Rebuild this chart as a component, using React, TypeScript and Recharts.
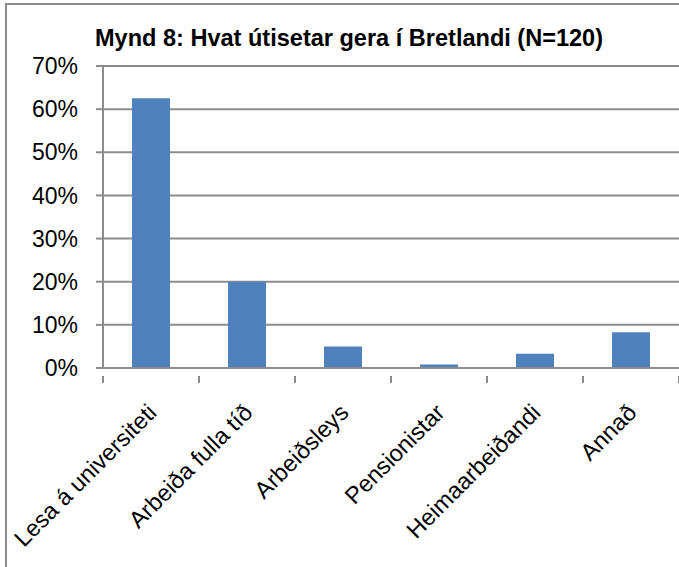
import React from 'react';
import { BarChart, Bar, XAxis, YAxis, CartesianGrid } from 'recharts';

// Mynd 8 data (N=120)
const categories = [
  'Lesa á universiteti',
  'Arbeiða fulla tíð',
  'Arbeiðsleys',
  'Pensionistar',
  'Heimaarbeiðandi',
  'Annað',
];
const shares = [62.5, 20, 5, 0.8, 3.3, 8.3];
const yTicks = [0, 10, 20, 30, 40, 50, 60, 70];
const title = 'Mynd 8: Hvat útisetar gera í Bretlandi (N=120)';

const data = categories.map((name, i) => ({ name, value: shares[i] }));

const W = 679;
const H = 567;
const axisLeft = 103;
const plotTop = 66;
const plotBottom = 368;
const band = (W - axisLeft) / categories.length;
const lineColor = '#8c8c8c';
const font = '"Liberation Sans", Arial, sans-serif';

// category label, rotated, with Excel-style tick marks between categories
const CategoryTick = (props: any) => {
  const { x, y, payload, index } = props;
  const left = x - band / 2;
  const right = x + band / 2;
  return (
    <g>
      <line x1={left} y1={y} x2={left} y2={y + 7} stroke={lineColor} strokeWidth={2} />
      {index === categories.length - 1 && (
        <line x1={right} y1={y} x2={right} y2={y + 7} stroke={lineColor} strokeWidth={2} />
      )}
      <g transform={`translate(${x + 7},${y + 38})`}>
        <text
          textAnchor="end"
          transform="rotate(-45)"
          fontSize={23.5}
          fontFamily={font}
          fill="#000"
        >
          {payload.value}
        </text>
      </g>
    </g>
  );
};

const App: React.FC = () => {
  return (
    <div style={{ position: 'absolute', left: 0, top: 0, width: W, height: H, overflow: 'hidden', background: '#fff' }}>
      <div
        style={{
          position: 'absolute',
          left: 5,
          top: 3,
          width: W + 20,
          height: H + 20,
          border: `2px solid ${lineColor}`,
          boxSizing: 'border-box',
        }}
      />
      <div style={{ position: 'absolute', left: 0, top: 0 }}>
        <BarChart
          width={W}
          height={H}
          data={data}
          margin={{ top: plotTop, right: 0, left: 0, bottom: 0 }}
        >
          <CartesianGrid vertical={false} stroke={lineColor} strokeWidth={2} />
          <XAxis
            dataKey="name"
            height={H - plotBottom}
            interval={0}
            axisLine={{ stroke: lineColor, strokeWidth: 2 }}
            tickLine={false}
            tick={<CategoryTick />}
          />
          <YAxis
            width={axisLeft}
            domain={[0, 70]}
            ticks={yTicks}
            interval={0}
            tickFormatter={(v: number) => `${v}%`}
            axisLine={{ stroke: lineColor, strokeWidth: 2 }}
            tickLine={{ stroke: lineColor, strokeWidth: 2 }}
            tickSize={7}
            tickMargin={18}
            tick={{ fontSize: 23, fontFamily: font, fill: '#000' }}
          />
          <Bar dataKey="value" fill="#4f81bd" barSize={38} isAnimationActive={false} />
        </BarChart>
      </div>
      <svg width={W} height={H} style={{ position: 'absolute', left: 0, top: 0, pointerEvents: 'none' }}>
        <text
          x={349}
          y={46}
          textAnchor="middle"
          fontSize={23}
          fontWeight="bold"
          fontFamily={font}
          fill="#000"
          textLength={508}
          lengthAdjust="spacingAndGlyphs"
        >
          {title}
        </text>
      </svg>
    </div>
  );
};

export default App;
